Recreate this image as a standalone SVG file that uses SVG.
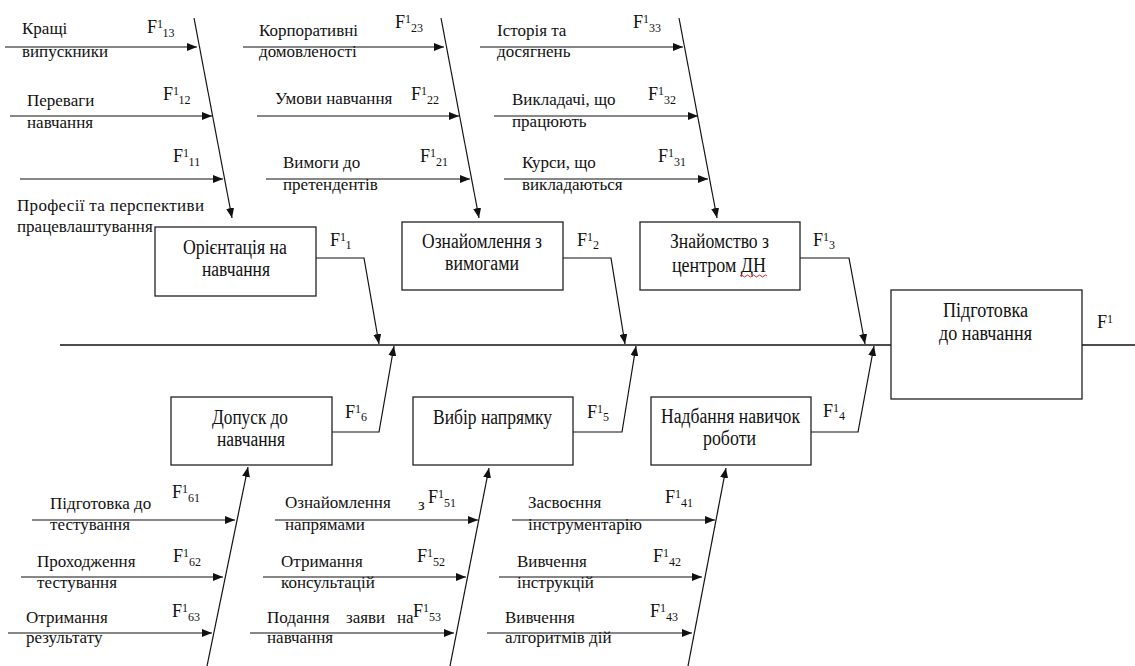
<svg xmlns="http://www.w3.org/2000/svg" width="1135" height="666" viewBox="0 0 1135 666" font-family="Liberation Serif, DejaVu Serif, serif">
<style>
.l{font-size:17px;fill:#111}
.b{font-size:20px;fill:#111}
.f{font-size:18px;fill:#111}
.s{font-size:12px}
.ln{stroke:#111;stroke-width:1.2;fill:none}
.bx{fill:#fff;stroke:#222;stroke-width:1.3}
</style>
<defs>
<marker id="ah" viewBox="0 0 10 8" refX="10" refY="4" markerWidth="10" markerHeight="8" markerUnits="userSpaceOnUse" orient="auto">
<path d="M0,0 L10,4 L0,8 z" fill="#111"/>
</marker>
</defs>
<rect width="1135" height="666" fill="#fff"/>

<g id="connectors" class="ln">
<line x1="60" y1="345" x2="891" y2="345" stroke-width="1.6"/>
<line x1="1082" y1="345" x2="1135" y2="345" stroke-width="1.6"/>
<g marker-end="url(#ah)">
<line x1="5" y1="47" x2="197" y2="47"/>
<line x1="10" y1="116" x2="212" y2="116"/>
<line x1="20" y1="179" x2="223" y2="179"/>
<line x1="194" y1="18" x2="232" y2="218"/>
<line x1="243" y1="47" x2="444" y2="47"/>
<line x1="257" y1="116" x2="459" y2="116"/>
<line x1="266" y1="179" x2="470" y2="179"/>
<line x1="441" y1="18" x2="479" y2="218"/>
<line x1="480" y1="47" x2="683" y2="47"/>
<line x1="494" y1="116" x2="698" y2="116"/>
<line x1="504" y1="179" x2="708" y2="179"/>
<line x1="679" y1="18" x2="717" y2="218"/>
<polyline points="316,258 364,258 379,344"/>
<polyline points="563,258 611,258 625,344"/>
<polyline points="800,258 849,258 865,344"/>
<polyline points="332,432 379,432 394,346"/>
<polyline points="573,432 622,432 636,346"/>
<polyline points="811,432 858,432 874,346"/>
<line x1="32" y1="520" x2="235" y2="520"/>
<line x1="21" y1="577" x2="223" y2="577"/>
<line x1="8" y1="633" x2="212" y2="633"/>
<line x1="207" y1="666" x2="248" y2="467"/>
<line x1="275" y1="520" x2="478" y2="520"/>
<line x1="263" y1="577" x2="466" y2="577"/>
<line x1="250" y1="633" x2="454" y2="633"/>
<line x1="450" y1="666" x2="489" y2="468"/>
<line x1="512" y1="520" x2="715" y2="520"/>
<line x1="499" y1="577" x2="702" y2="577"/>
<line x1="487" y1="633" x2="692" y2="633"/>
<line x1="688" y1="666" x2="726" y2="468"/>
</g>
</g>

<g id="cause-1-labels">
<text class="l" x="22" y="34">Кращі</text>
<text class="l" x="22" y="57">випускники</text>
<text class="f" x="147" y="33">F<tspan class="s" dy="-5">1</tspan><tspan class="s" dy="9">13</tspan></text>
<text class="l" x="27" y="106">Переваги</text>
<text class="l" x="27" y="128">навчання</text>
<text class="f" x="163" y="100">F<tspan class="s" dy="-5">1</tspan><tspan class="s" dy="9">12</tspan></text>
<text class="f" x="173" y="162">F<tspan class="s" dy="-5">1</tspan><tspan class="s" dy="9">11</tspan></text>
<text class="l" x="17" y="211" textLength="187" lengthAdjust="spacing">Професії та перспективи</text>
<text class="l" x="17" y="232">працевлаштування</text>
</g>

<g id="cause-2-labels">
<text class="l" x="259" y="36">Корпоративні</text>
<text class="l" x="259" y="57">домовленості</text>
<text class="f" x="395" y="28">F<tspan class="s" dy="-5">1</tspan><tspan class="s" dy="9">23</tspan></text>
<text class="l" x="275" y="104">Умови навчання</text>
<text class="f" x="411" y="100">F<tspan class="s" dy="-5">1</tspan><tspan class="s" dy="9">22</tspan></text>
<text class="l" x="283" y="168">Вимоги до</text>
<text class="l" x="283" y="190">претендентів</text>
<text class="f" x="420" y="162">F<tspan class="s" dy="-5">1</tspan><tspan class="s" dy="9">21</tspan></text>
</g>

<g id="cause-3-labels">
<text class="l" x="497" y="36">Історія та</text>
<text class="l" x="497" y="57">досягнень</text>
<text class="f" x="633" y="28">F<tspan class="s" dy="-5">1</tspan><tspan class="s" dy="9">33</tspan></text>
<text class="l" x="512" y="105">Викладачі, що</text>
<text class="l" x="512" y="127">працюють</text>
<text class="f" x="648" y="100">F<tspan class="s" dy="-5">1</tspan><tspan class="s" dy="9">32</tspan></text>
<text class="l" x="522" y="168">Курси, що</text>
<text class="l" x="522" y="190">викладаються</text>
<text class="f" x="658" y="162">F<tspan class="s" dy="-5">1</tspan><tspan class="s" dy="9">31</tspan></text>
</g>

<g id="node-F1-1">
<rect class="bx" x="155" y="227" width="161" height="69"/>
<text class="b" x="183" y="254" textLength="104" lengthAdjust="spacingAndGlyphs">Орієнтація на</text>
<text class="b" x="202" y="276" textLength="68" lengthAdjust="spacingAndGlyphs">навчання</text>
<text class="f" x="330" y="246">F<tspan class="s" dy="-5">1</tspan><tspan class="s" dy="8">1</tspan></text>
</g>

<g id="node-F1-2">
<rect class="bx" x="402" y="222" width="161" height="68"/>
<text class="b" x="422" y="248" textLength="120" lengthAdjust="spacingAndGlyphs">Ознайомлення з</text>
<text class="b" x="445" y="270" textLength="74" lengthAdjust="spacingAndGlyphs">вимогами</text>
<text class="f" x="577" y="246">F<tspan class="s" dy="-5">1</tspan><tspan class="s" dy="8">2</tspan></text>
</g>

<g id="node-F1-3">
<rect class="bx" x="640" y="222" width="160" height="68"/>
<text class="b" x="670" y="248" textLength="99" lengthAdjust="spacingAndGlyphs">Знайомство з</text>
<text class="b" x="672" y="272" textLength="94" lengthAdjust="spacingAndGlyphs">центром ДН</text>
<path d="M740,276 q1.5,-2 3,0 t3,0 t3,0 t3,0 t3,0 t3,0 t3,0 t3,0 t3,0" fill="none" stroke="#e02020" stroke-width="1"/>
<text class="f" x="813" y="246">F<tspan class="s" dy="-5">1</tspan><tspan class="s" dy="8">3</tspan></text>
</g>

<g id="node-F1">
<rect class="bx" x="891" y="290" width="191" height="109"/>
<text class="b" x="943" y="317" textLength="85" lengthAdjust="spacingAndGlyphs">Підготовка</text>
<text class="b" x="939" y="340" textLength="93" lengthAdjust="spacingAndGlyphs">до навчання</text>
<text class="f" x="1097" y="328">F<tspan class="s" dy="-5">1</tspan></text>
</g>

<g id="node-F1-6">
<rect class="bx" x="171" y="397" width="161" height="68"/>
<text class="b" x="212" y="424" textLength="76" lengthAdjust="spacingAndGlyphs">Допуск до</text>
<text class="b" x="217" y="446" textLength="68" lengthAdjust="spacingAndGlyphs">навчання</text>
<text class="f" x="345" y="418">F<tspan class="s" dy="-5">1</tspan><tspan class="s" dy="8">6</tspan></text>
</g>

<g id="node-F1-5">
<rect class="bx" x="413" y="397" width="160" height="68"/>
<text class="b" x="433" y="424" textLength="119" lengthAdjust="spacingAndGlyphs">Вибір напрямку</text>
<text class="f" x="587" y="418">F<tspan class="s" dy="-5">1</tspan><tspan class="s" dy="8">5</tspan></text>
</g>

<g id="node-F1-4">
<rect class="bx" x="651" y="397" width="160" height="68"/>
<text class="b" x="661" y="423" textLength="139" lengthAdjust="spacingAndGlyphs">Надбання навичок</text>
<text class="b" x="703" y="445" textLength="53" lengthAdjust="spacingAndGlyphs">роботи</text>
<text class="f" x="823" y="417">F<tspan class="s" dy="-5">1</tspan><tspan class="s" dy="8">4</tspan></text>
</g>

<g id="cause-6-labels">
<text class="l" x="50" y="509">Підготовка до</text>
<text class="l" x="50" y="530">тестування</text>
<text class="f" x="172" y="498">F<tspan class="s" dy="-5">1</tspan><tspan class="s" dy="9">61</tspan></text>
<text class="l" x="37" y="567">Проходження</text>
<text class="l" x="37" y="588">тестування</text>
<text class="f" x="173" y="562">F<tspan class="s" dy="-5">1</tspan><tspan class="s" dy="9">62</tspan></text>
<text class="l" x="26" y="623">Отримання</text>
<text class="l" x="26" y="643">результату</text>
<text class="f" x="172" y="617">F<tspan class="s" dy="-5">1</tspan><tspan class="s" dy="9">63</tspan></text>
</g>

<g id="cause-5-labels">
<text class="l" y="508"><tspan x="285">Ознайомлення</tspan><tspan x="418" y="510">з</tspan></text>
<text class="l" x="285" y="530">напрямами</text>
<text class="f" x="428" y="503">F<tspan class="s" dy="-5">1</tspan><tspan class="s" dy="9">51</tspan></text>
<text class="l" x="281" y="567">Отримання</text>
<text class="l" x="281" y="588">консультацій</text>
<text class="f" x="417" y="562">F<tspan class="s" dy="-5">1</tspan><tspan class="s" dy="9">52</tspan></text>
<text class="l" y="623"><tspan x="267">Подання</tspan><tspan x="346">заяви</tspan><tspan x="397">на</tspan></text>
<text class="l" x="267" y="643">навчання</text>
<text class="f" x="413" y="617">F<tspan class="s" dy="-5">1</tspan><tspan class="s" dy="9">53</tspan></text>
</g>

<g id="cause-4-labels">
<text class="l" x="528" y="508">Засвоєння</text>
<text class="l" x="528" y="530">інструментарію</text>
<text class="f" x="665" y="503">F<tspan class="s" dy="-5">1</tspan><tspan class="s" dy="9">41</tspan></text>
<text class="l" x="517" y="567">Вивчення</text>
<text class="l" x="517" y="588">інструкцій</text>
<text class="f" x="653" y="562">F<tspan class="s" dy="-5">1</tspan><tspan class="s" dy="9">42</tspan></text>
<text class="l" x="505" y="623">Вивчення</text>
<text class="l" x="505" y="643">алгоритмів дій</text>
<text class="f" x="650" y="617">F<tspan class="s" dy="-5">1</tspan><tspan class="s" dy="9">43</tspan></text>
</g>
</svg>
